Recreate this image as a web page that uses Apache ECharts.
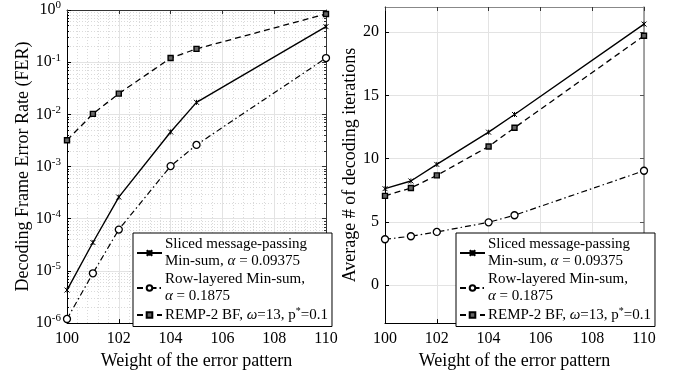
<!DOCTYPE html>
<html>
<head>
<meta charset="utf-8">
<script src="https://cdn.jsdelivr.net/npm/echarts@6/dist/echarts.min.js"></script>
<style>
  html, body { margin: 0; padding: 0; background: #fff; }
  #chart { width: 677px; height: 375px; }
</style>
</head>
<body>
<div id="chart"></div>
<script>
// error-pattern weights (x axis, both panels)
const weights = [100, 101, 102, 104, 105, 110];

// left panel: frame error rate
const ferSliced = [4.3e-6, 3.5e-5, 2.6e-4, 4.6e-3, 1.7e-2, 0.48];
const ferLayered = [1.2e-6, 9.0e-6, 6.2e-5, 1.02e-3, 2.6e-3, 0.12];
const ferRemp = [3.2e-3, 1.02e-2, 2.5e-2, 0.12, 0.18, 0.84];

// right panel: average decoding iterations
const iterSliced = [7.63, 8.24, 9.55, 12.1, 13.5, 20.65];
const iterLayered = [3.63, 3.87, 4.21, 4.97, 5.53, 9.05];
const iterRemp = [7.06, 7.69, 8.68, 10.97, 12.45, 19.73];

const iterTicks = [0, 5, 10, 15, 20];

const names = ["sliced", "layered", "remp"];
const legendText = {
  sliced: "Sliced message-passing\nMin-sum, {i|α} = 0.09375",
  layered: "Row-layered Min-sum,\n{i|α} = 0.1875",
  remp: "REMP-2 BF, {i|ω}=13, p{sup|*}=0.1"
};

const FONT = "Liberation Serif";
const ink = "#000";

const pairs = (ys) => ys.map((y, i) => [weights[i], y]);

// per-curve styling
const styles = {
  sliced: {
    lineStyle: { color: ink, width: 1.4, type: "solid" },
    symbol: "path://M0,0L10,10M10,0L0,10M5,0L5,10",
    symbolSize: 5,
    itemStyle: { color: ink, borderColor: ink, borderWidth: 1 }
  },
  layered: {
    lineStyle: { color: ink, width: 1.2, type: [6, 3, 1.5, 3] },
    symbol: "circle",
    symbolSize: 7,
    itemStyle: { color: "#fff", borderColor: ink, borderWidth: 1.3 }
  },
  remp: {
    lineStyle: { color: ink, width: 1.3, type: [6, 4] },
    symbol: "rect",
    symbolSize: 5,
    itemStyle: { color: "#666", borderColor: ink, borderWidth: 1.4 }
  }
};

function makeSeries(name, ys, xi, yi) {
  const s = styles[name];
  return {
    name: name,
    type: "line",
    xAxisIndex: xi,
    yAxisIndex: yi,
    data: pairs(ys),
    showSymbol: true,
    symbol: s.symbol,
    symbolSize: s.symbolSize,
    lineStyle: s.lineStyle,
    itemStyle: s.itemStyle,
    emphasis: { disabled: true },
    animation: false,
    z: 5
  };
}

const labelFont = { color: ink, fontFamily: FONT, fontSize: 16 };
const nameFont = { color: ink, fontFamily: FONT, fontSize: 18 };

function xAxisPair(gridIndex, minor) {
  return [
    {
      gridIndex: gridIndex,
      type: "value",
      min: 100, max: 110, interval: 2,
      position: "bottom",
      name: "Weight of the error pattern",
      nameLocation: "middle",
      nameGap: 26,
      nameTextStyle: nameFont,
      axisLine: { onZero: false, lineStyle: { color: ink, width: 1 } },
      axisTick: { inside: true, length: 4, lineStyle: { color: ink } },
      axisLabel: Object.assign({ margin: 8 }, labelFont),
      splitLine: { show: true, lineStyle: { color: "#e3e3e3", width: 1 } },
      minorTick: { show: false, splitNumber: 5 },
      minorSplitLine: { show: minor, lineStyle: { color: "#d0d0d0", width: 0.8, type: [1, 2] } }
    },
    {
      gridIndex: gridIndex,
      type: "value",
      min: 100, max: 110, interval: 2,
      position: "top",
      axisLine: { show: true, onZero: false, lineStyle: { color: gridIndex === 0 ? "#333" : "#888" } },
      axisTick: { inside: true, length: 4, lineStyle: { color: "#333" } },
      axisLabel: { show: false },
      splitLine: { show: false }
    }
  ];
}

const option = {
  backgroundColor: "#fff",
  animation: false,
  grid: [
    { left: 67, top: 7, width: 259, height: 318, containLabel: false },
    { left: 385, top: 7, width: 259, height: 318, containLabel: false }
  ],
  xAxis: [].concat(xAxisPair(0, true), xAxisPair(1, false)),
  yAxis: [
    {
      gridIndex: 0,
      type: "log",
      logBase: 10,
      min: 1e-6, max: 1,
      position: "left",
      name: "Decoding Frame Error Rate (FER)",
      nameLocation: "middle",
      nameGap: 33,
      nameTextStyle: nameFont,
      axisLine: { onZero: false, lineStyle: { color: ink } },
      axisTick: { inside: true, length: 4, lineStyle: { color: ink } },
      minorTick: { show: true, splitNumber: 9, length: 2, lineStyle: { color: ink } },
      minorSplitLine: { show: true, lineStyle: { color: "#d0d0d0", width: 0.8, type: [1, 2] } },
      splitLine: { show: true, lineStyle: { color: "#e3e3e3" } },
      axisLabel: {
        margin: 6,
        color: ink,
        fontFamily: FONT,
        formatter: (v) => "{b|10}{s|" + Math.round(Math.log10(v)) + "}",
        rich: {
          b: { fontFamily: FONT, fontSize: 16, color: ink },
          s: { fontFamily: FONT, fontSize: 11, color: ink, padding: [0, 0, 9, 0] }
        }
      }
    },
    {
      gridIndex: 0,
      type: "log",
      logBase: 10,
      min: 1e-6, max: 1,
      position: "right",
      axisLine: { show: true, onZero: false, lineStyle: { color: "#333" } },
      axisTick: { inside: true, length: 4, lineStyle: { color: "#333" } },
      minorTick: { show: true, splitNumber: 9, length: 2, lineStyle: { color: "#333" } },
      axisLabel: { show: false },
      splitLine: { show: false }
    },
    {
      gridIndex: 1,
      type: "value",
      min: -3, max: 22,
      position: "left",
      name: "Average # of decoding iterations",
      nameLocation: "middle",
      nameGap: 20,
      nameTextStyle: nameFont,
      axisLine: { onZero: false, lineStyle: { color: ink } },
      axisTick: { inside: true, length: 4, lineStyle: { color: ink }, customValues: iterTicks },
      axisLabel: Object.assign({ margin: 6, customValues: iterTicks }, labelFont),
      splitLine: { show: true, lineStyle: { color: "#e3e3e3" } }
    },
    {
      gridIndex: 1,
      type: "value",
      min: -3, max: 22,
      position: "right",
      axisLine: { show: true, onZero: false, lineStyle: { color: "#888", width: 1.5 } },
      axisTick: { inside: true, length: 4, lineStyle: { color: "#555" }, customValues: iterTicks },
      axisLabel: { show: false },
      splitLine: { show: false }
    }
  ],
  legend: [0, 1].map((g) => ({
    left: g === 0 ? 133 : 456,
    top: 233,
    orient: "vertical",
    data: names,
    itemGap: 1,
    itemWidth: 25,
    itemHeight: 7,
    padding: [3, 4, 3, 3],
    backgroundColor: "#fff",
    borderColor: ink,
    borderWidth: 1,
    selectedMode: false,
    formatter: (n) => legendText[n],
    textStyle: {
      color: ink,
      fontFamily: FONT,
      fontSize: 15,
      lineHeight: 17,
      padding: [0, 0, 0, -2],
      rich: {
        i: { fontFamily: FONT, fontSize: 15, fontStyle: "italic", color: ink, lineHeight: 17 },
        sup: { fontFamily: FONT, fontSize: 10, color: ink, padding: [0, 0, 8, 0] }
      }
    },
    z: 10
  })),
  series: [
    makeSeries("sliced", ferSliced, 0, 0),
    makeSeries("layered", ferLayered, 0, 0),
    makeSeries("remp", ferRemp, 0, 0),
    makeSeries("sliced", iterSliced, 2, 2),
    makeSeries("layered", iterLayered, 2, 2),
    makeSeries("remp", iterRemp, 2, 2)
  ]
};

const chart = echarts.init(document.getElementById("chart"), null, { renderer: "canvas" });
chart.setOption(option);
</script>
</body>
</html>
